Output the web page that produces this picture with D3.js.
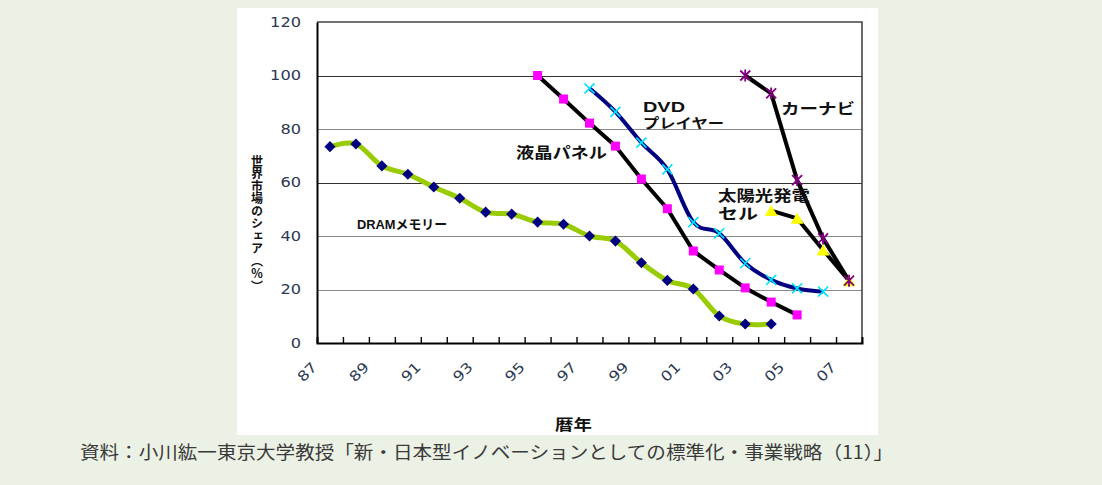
<!DOCTYPE html>
<html>
<head>
<meta charset="utf-8">
<script src="https://cdn.jsdelivr.net/npm/d3@7"></script>
<style>
  html, body { margin: 0; padding: 0; background: #ebf1e4; }
  svg { display: block; }
</style>
</head>
<body>
<svg id="chart" width="1102" height="485"></svg>
<script>
// Calendar years (two-digit) along the category axis
const years = ["87","88","89","90","91","92","93","94","95","96","97","98","99","00","01","02","03","04","05","06","07"];
const yTicks = [0, 20, 40, 60, 80, 100, 120];

// World market share (%) held by Japanese firms, per product
const dram   = [73.4, 74.4, 66.2, 63.1, 58.3, 54.1, 48.9, 48.2, 45.2, 44.4, 40, 38.1, 30, 23.4, 20.2, 10.1, 7.1, 7.1, null, null, null];
const lcd    = [null, null, null, null, null, null, null, null, 100, 91.2, 82.2, 73.6, 61.3, 50.2, 34.4, 27.3, 20.6, 15.3, 10.5, null, null];
const dvd    = [null, null, null, null, null, null, null, null, null, null, 95.2, 86.4, 74.9, 64.9, 45.2, 41, 29.8, 23.6, 20.4, 19.2, null];
const solar  = [null, null, null, null, null, null, null, null, null, null, null, null, null, null, null, null, null, 49.5, 46.6, 34.8, 23.3];
const carNav = [null, null, null, null, null, null, null, null, null, null, null, null, null, null, null, null, 100, 93.3, 60.9, 39.1, 23.3];

const seriesNames = ["DRAMメモリー", "液晶パネル", "DVDプレイヤー", "太陽光発電セル", "カーナビ"];
const yTitle = "世界市場のシェア（％）";
const xTitle = "暦年";
const source = "資料：小川紘一東京大学教授「新・日本型イノベーションとしての標準化・事業戦略（11）」";

const svg = d3.select("#chart");
const JP = "'Noto Sans CJK JP', 'Noto Sans', sans-serif";
const LABEL = "'Liberation Sans', 'Noto Sans CJK JP', sans-serif";
const NUM = "'DejaVu Sans', 'Liberation Sans', sans-serif";

// panel
svg.append("rect").attr("x", 0).attr("y", 0).attr("width", 1102).attr("height", 485).attr("fill", "#ebf1e4");
svg.append("rect").attr("x", 237).attr("y", 8).attr("width", 641).attr("height", 427).attr("fill", "#ffffff");

const plot = { left: 317, right: 862, top: 22, bottom: 343 };

const x = d3.scaleBand().domain(years).range([plot.left, plot.right]);
const cx = d => x(d) + x.bandwidth() / 2;
const y = d3.scaleLinear().domain([0, 120]).range([plot.bottom, plot.top]);
const edge = d3.scaleLinear().domain([0, years.length]).range([plot.left, plot.right]);

// gridlines
svg.append("g").selectAll("line").data(yTicks.filter(v => v > 0 && v < 120)).join("line")
  .attr("x1", plot.left).attr("x2", plot.right)
  .attr("y1", d => Math.round(y(d)) + 0.5).attr("y2", d => Math.round(y(d)) + 0.5)
  .attr("stroke", d => (d === 60 || d === 100) ? "#333" : "#8a8a8a")
  .attr("stroke-width", 1);

// plot frame (top and right)
svg.append("path")
  .attr("d", `M${plot.left},${plot.top}H${plot.right}V${plot.bottom}`)
  .attr("fill", "none").attr("stroke", "#444").attr("stroke-width", 1.6);

// y axis
const yAxis = svg.append("g").attr("transform", `translate(${plot.left},0)`)
  .call(d3.axisLeft(y).tickValues(yTicks).tickSize(0).tickPadding(16));
yAxis.select(".domain").attr("stroke", "#000").attr("stroke-width", 2);
yAxis.selectAll("text")
  .attr("font-family", NUM).attr("font-size", 14).attr("fill", "#2c3852")
  .attr("textLength", d => String(d).length * 10.3).attr("lengthAdjust", "spacingAndGlyphs");

// x axis: tick marks sit on category boundaries, pointing inward
const xAxis = svg.append("g").attr("transform", `translate(0,${plot.bottom})`)
  .call(d3.axisBottom(edge).tickValues(d3.range(1, years.length)).tickSize(-6).tickFormat(""));
xAxis.select(".domain").attr("stroke", "#000").attr("stroke-width", 2);
xAxis.selectAll(".tick line").attr("stroke", "#000").attr("stroke-width", 1.4);

// x labels: every other year, rotated
const xLab = svg.append("g").attr("transform", `translate(0,${plot.bottom})`)
  .call(d3.axisBottom(x).tickValues(years.filter((d, i) => i % 2 === 0)).tickSize(0));
xLab.select(".domain").remove();
xLab.selectAll(".tick").attr("transform", d => `translate(${cx(d) - 12},25)`);
xLab.selectAll("text")
  .attr("y", 0).attr("dy", 0).attr("x", 0)
  .attr("text-anchor", "end")
  .attr("transform", "rotate(-45)")
  .attr("font-family", NUM).attr("font-size", 14).attr("fill", "#2c3852")
  .attr("textLength", 21).attr("lengthAdjust", "spacingAndGlyphs");

// series lines
const smooth = d3.curveCardinal.tension(0);
const rows = arr => years.map((yr, i) => ({ year: yr, v: arr[i] })).filter(d => d.v != null);

function drawLine(arr, color, width, curve) {
  const line = d3.line().x(d => cx(d.year)).y(d => y(d.v)).curve(curve);
  svg.append("path").datum(rows(arr))
    .attr("d", line).attr("fill", "none")
    .attr("stroke", color).attr("stroke-width", width)
    .attr("stroke-linejoin", "round").attr("stroke-linecap", "butt");
}

drawLine(dram, "#99cc00", 5, smooth);
drawLine(lcd, "#000000", 4, d3.curveLinear);
drawLine(dvd, "#000080", 4, smooth);
drawLine(solar, "#000000", 4, d3.curveLinear);
drawLine(carNav, "#000000", 4, d3.curveLinear);

// markers
function markers(arr, draw) {
  const g = svg.append("g");
  g.selectAll("g").data(rows(arr)).join("g")
    .attr("transform", d => `translate(${cx(d.year)},${y(d.v)})`)
    .each(function () { draw(d3.select(this)); });
}

markers(dram, s => s.append("path")
  .attr("d", d3.symbol(d3.symbolSquare, 62)()).attr("transform", "rotate(45)")
  .attr("fill", "#000080"));

markers(lcd, s => s.append("rect")
  .attr("x", -4.5).attr("y", -4.5).attr("width", 9).attr("height", 9)
  .attr("fill", "#ff00ff"));

markers(dvd, s => s.append("path")
  .attr("d", "M-5,-5L5,5M-5,5L5,-5")
  .attr("stroke", "#00e5ff").attr("stroke-width", 1.6).attr("fill", "none"));

markers(solar, s => s.append("path")
  .attr("d", "M0,-5.5L6.5,5.5L-6.5,5.5Z")
  .attr("fill", "#ffff00"));

markers(carNav, s => s.append("path")
  .attr("d", "M-5,-5L5,5M-5,5L5,-5M0,-6V6")
  .attr("stroke", "#800080").attr("stroke-width", 1.8).attr("fill", "none"));

// series labels; each entry is one line of a label: [text, x, baseline, width, size]
function label(lines, weight) {
  const t = svg.append("text")
    .attr("font-family", LABEL).attr("font-weight", weight).attr("fill", "#111");
  lines.forEach(([s, x0, yb, w, size]) => {
    t.append("tspan")
      .attr("x", x0).attr("y", yb).attr("font-size", size)
      .attr("textLength", w).attr("lengthAdjust", "spacingAndGlyphs")
      .text(s);
  });
}

label([["DVD", 643, 112, 42, 15], [seriesNames[2].slice(3), 643, 128, 81, 14]], 700);
label([[seriesNames[1], 516, 158, 91, 15]], 700);
label([[seriesNames[4], 781, 114, 74, 15]], 700);
label([[seriesNames[3].slice(0, 5), 718, 201, 92, 15], [seriesNames[3].slice(5), 718, 219, 40, 15]], 700);
label([[seriesNames[0], 357, 229, 90, 13]], 700);

// y-axis title, written vertically
svg.append("text")
  .attr("x", 257).attr("y", 155)
  .attr("writing-mode", "vertical-rl")
  .attr("font-family", JP).attr("font-size", 12).attr("font-weight", 700)
  .attr("letter-spacing", 0.5).attr("fill", "#111")
  .text(yTitle);

// x-axis title
svg.append("text").attr("x", 555).attr("y", 430)
  .attr("font-family", JP).attr("font-size", 15).attr("font-weight", 700).attr("fill", "#111")
  .attr("textLength", 37).attr("lengthAdjust", "spacingAndGlyphs")
  .text(xTitle);

// source note
svg.append("text").attr("x", 80).attr("y", 459)
  .attr("font-family", JP).attr("font-size", 18).attr("font-weight", 400).attr("fill", "#3a3a3a")
  .attr("textLength", 813).attr("lengthAdjust", "spacingAndGlyphs")
  .text(source);
</script>
</body>
</html>
